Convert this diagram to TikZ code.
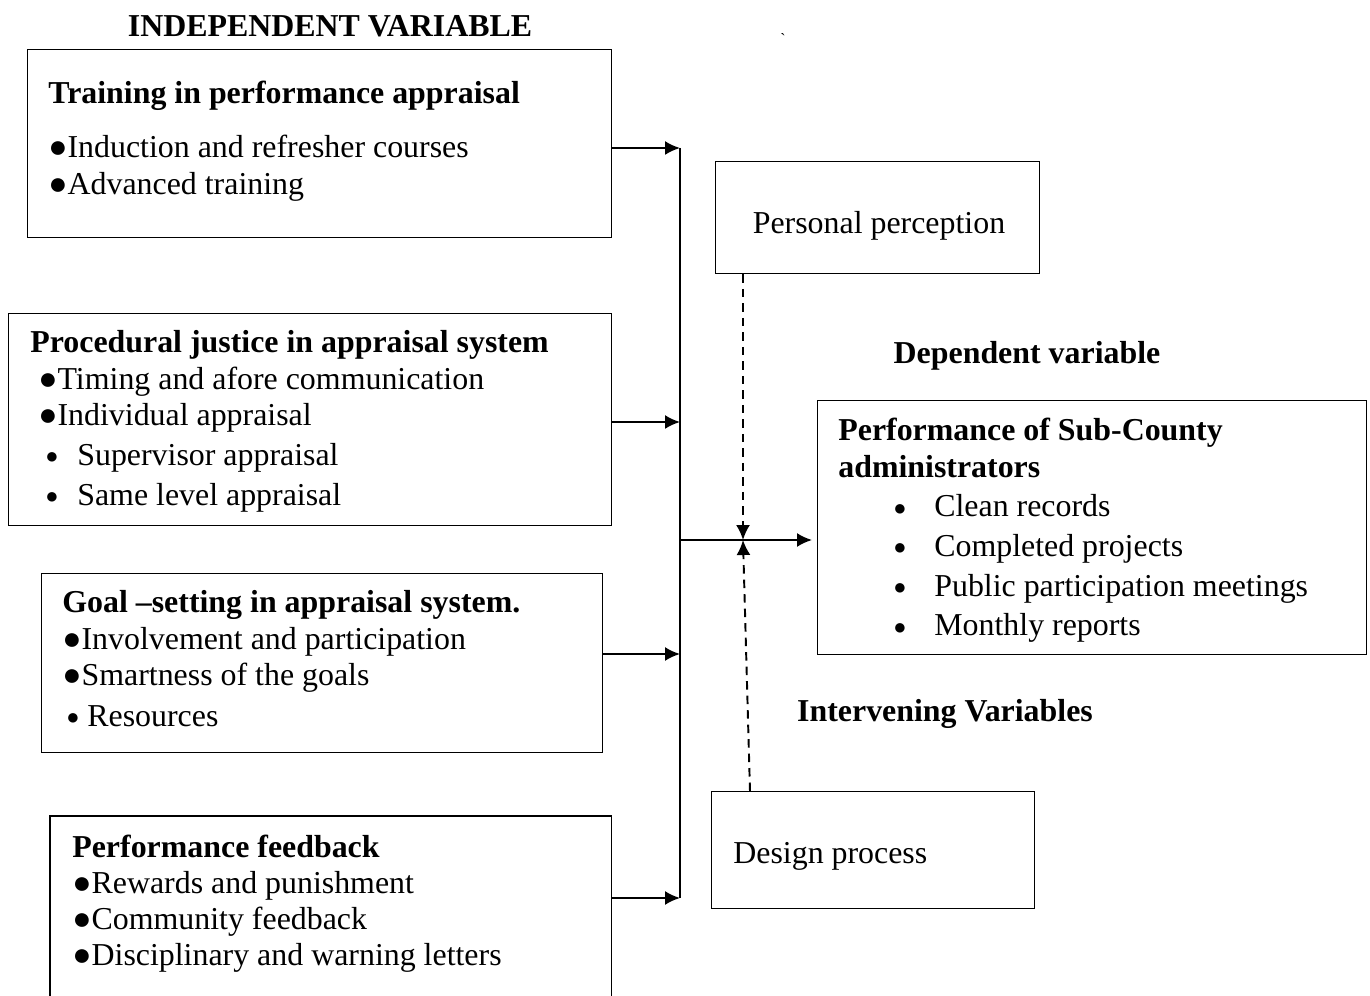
\documentclass[tikz,border=0pt]{standalone}
\usepackage{fontspec}
\setmainfont{Liberation Serif}
\usetikzlibrary{arrows.meta, positioning}

\newcommand{\dotline}[3]{\hspace*{#1}\makebox[#2][l]{\raisebox{0.035cm}{\fontsize{12.5pt}{0pt}\selectfont●}}#3}
\newcommand{\block}[1]{\begin{tabular}[t]{@{}l@{}}#1\end{tabular}}

\begin{document}
\begin{tikzpicture}[x=0.02cm, y=-0.02cm,
  font=\fontsize{18.15pt}{20.6pt}\selectfont,
  box/.style={draw, line width=0.8pt, anchor=north west, inner sep=0pt},
  txt/.style={anchor=base west, inner sep=0pt},
  head/.style={anchor=base, inner sep=0pt, font=\fontsize{18.15pt}{20.6pt}\selectfont\bfseries},
  feed/.style={line width=1.1pt, -{Latex[length=3mm,width=2.8mm]}},
  link/.style={feed, dash pattern=on 0.17cm off 0.12cm}]
\useasboundingbox (0,0) rectangle (1370,996);

% The independent variables
\node[head] (indep) at (330,37) {INDEPENDENT VARIABLE};
\node[inner sep=0pt, anchor=base, font=\small] (tick) at (783,45) {\textasciigrave};

\node[box, minimum width=11.68cm, minimum height=3.76cm] (train) at (27,49) {};
\node[txt] (traintxt) at (48,104) {\block{\textbf{Training in performance appraisal}\\[0.354cm]
  ●Induction and refresher courses\\
  ●Advanced training}};

\node[box, minimum width=12.06cm, minimum height=4.24cm] (justice) at (8,313) {};
\node[txt] (justicetxt) at (30,353) {\block{\textbf{Procedural justice in appraisal system}\\
  \hspace*{0.16cm}●Timing and afore communication\\
  \hspace*{0.16cm}●Individual appraisal\\[0.075cm]
  \dotline{0.3cm}{0.64cm}{Supervisor appraisal}\\[0.075cm]
  \dotline{0.3cm}{0.64cm}{Same level appraisal}}};

\node[box, minimum width=11.22cm, minimum height=3.58cm] (goal) at (41,573) {};
\node[txt] (goaltxt) at (62,613) {\block{\textbf{Goal –setting in appraisal system.}\\
  ●Involvement and participation\\
  ●Smartness of the goals\\[0.1cm]
  \dotline{0.08cm}{0.42cm}{Resources}}};

\node[anchor=north west, inner sep=0pt, minimum width=11.22cm, minimum height=3.7cm] (feedback) at (50,816) {};
\draw[line width=0.8pt] (feedback.south west) -- (feedback.north west) -- (feedback.north east) -- (feedback.south east);
\node[txt] (feedbacktxt) at (72,857) {\block{\textbf{Performance feedback}\\
  ●Rewards and punishment\\
  ●Community feedback\\
  ●Disciplinary and warning letters}};

% The intervening and dependent variables
\node[box, minimum width=6.48cm, minimum height=2.24cm] (perception) at (715,161) {};
\node[anchor=base, inner sep=0pt] (perceptiontxt) at (879,234) {Personal perception};

\node[head] (dep) at (1027,364) {Dependent variable};
\node[box, minimum width=10.98cm, minimum height=5.08cm] (perf) at (817,400) {};
\node[txt] (perftxt) at (838,441) {\block{\textbf{Performance of Sub-County}\\
  \textbf{administrators}\\[0.07cm]
  \dotline{1.1cm}{0.82cm}{Clean records}\\[0.07cm]
  \dotline{1.1cm}{0.82cm}{Completed projects}\\[0.07cm]
  \dotline{1.1cm}{0.82cm}{Public participation meetings}\\[0.07cm]
  \dotline{1.1cm}{0.82cm}{Monthly reports}}};

\node[head] (interv) at (945,722) {Intervening Variables};
\node[box, minimum width=6.46cm, minimum height=2.34cm] (design) at (711,791) {};
\node[txt] (designtxt) at (733,863) {Design process};

% The connectors
\coordinate (b1) at (680,148);
\coordinate (b2) at (680,422);
\coordinate (b3) at (680,654);
\coordinate (b4) at (680,898);
\coordinate (hub) at (680,540);
\coordinate (meet) at (743,540);
\draw[line width=1.1pt] (b1) -- (b4);
\draw[feed] (b1 -| train.east) -- (b1);
\draw[feed] (b2 -| justice.east) -- (b2);
\draw[feed] (b3 -| goal.east) -- (b3);
\draw[feed] (b4 -| feedback.east) -- (b4);
\draw[feed, shorten >=0.1cm] (hub) -- (hub -| perf.west);
\draw[link] (meet |- perception.south) -- (meet);
\draw[link] ([xshift=0.78cm]design.north west) -- (meet);
\end{tikzpicture}
\end{document}
